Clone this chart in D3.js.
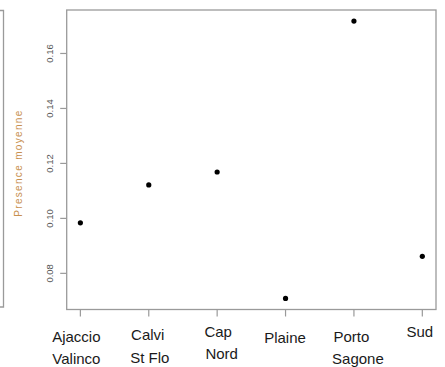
<!DOCTYPE html>
<html>
<head>
<meta charset="utf-8">
<script src="https://cdn.jsdelivr.net/npm/d3@7"></script>
<style>
  html, body { margin: 0; padding: 0; background: #fff; }
  svg { display: block; }
</style>
</head>
<body>
<svg id="chart" width="445" height="367"></svg>
<script>
// Mean presence per sector
const sectors = [["Ajaccio", "Valinco"], ["Calvi", "St Flo"], ["Cap", "Nord"], ["Plaine"], ["Porto", "Sagone"], ["Sud"]];
const presence = [0.0982, 0.1120, 0.1167, 0.0707, 0.1716, 0.0860];
const yTicks = [0.08, 0.10, 0.12, 0.14, 0.16];
const yTitle = "Presence moyenne";

const svg = d3.select("#chart");
const box = { left: 66.7, right: 436, top: 10, bottom: 309.5 };

// R-style 4% padding around the data range
const [lo, hi] = d3.extent(presence);
const padY = (hi - lo) * 0.04;
const y = d3.scaleLinear().domain([lo - padY, hi + padY]).range([box.bottom, box.top]);
const padX = (sectors.length - 1) * 0.04;
const x = d3.scaleLinear().domain([1 - padX, sectors.length + padX]).range([box.left, box.right]);

const frame = "#9a9a9a";

// edge of the neighbouring panel on the left
svg.append("path")
  .attr("d", "M0,10.5H3.5V307H0")
  .attr("fill", "none").attr("stroke", frame).attr("stroke-width", 1.3);

// plot frame
svg.append("rect")
  .attr("x", box.left).attr("y", box.top)
  .attr("width", box.right - box.left).attr("height", box.bottom - box.top)
  .attr("fill", "none").attr("stroke", frame).attr("stroke-width", 1.3);

// y axis with rotated labels
const yAxis = svg.append("g")
  .attr("transform", `translate(${box.left},0)`)
  .call(d3.axisLeft(y).tickValues(yTicks).tickSize(6.5).tickSizeOuter(0).tickFormat(d3.format(".2f")));
yAxis.select(".domain").remove();
yAxis.selectAll(".tick line").attr("stroke", frame).attr("stroke-width", 1.2);
yAxis.selectAll(".tick text")
  .attr("x", null).attr("dy", null).attr("y", null)
  .attr("transform", "translate(-14,0) rotate(-90)")
  .attr("text-anchor", "middle")
  .attr("fill", "#555")
  .style("font-family", "'Liberation Sans', Arial, sans-serif")
  .style("font-size", "9.5px");

svg.append("text")
  .attr("transform", `translate(22,${(box.top + box.bottom) / 2 + 4}) rotate(-90)`)
  .attr("text-anchor", "middle")
  .attr("fill", "#c8904f")
  .attr("textLength", 106)
  .style("font-family", "'Liberation Sans', Arial, sans-serif")
  .style("font-size", "10px")
  .text(yTitle);

// x ticks
const idx = d3.range(1, sectors.length + 1);
svg.append("g").selectAll("line").data(idx).join("line")
  .attr("x1", d => x(d)).attr("x2", d => x(d))
  .attr("y1", box.bottom).attr("y2", box.bottom + 7)
  .attr("stroke", frame).attr("stroke-width", 1.2);

// x labels, each line nudged as typeset
const labelNudge = [
  { dx: [-4, -4], y: 341.5 },
  { dx: [-1, 1], y: 340 },
  { dx: [1, 4.5], y: 336.5 },
  { dx: [-0.5], y: 343 },
  { dx: [-2.5, 4], y: 341.5 },
  { dx: [-2.5], y: 337 }
];
const lbl = svg.append("g")
  .style("font-family", "'Liberation Sans', Arial, sans-serif")
  .style("font-size", "15px")
  .attr("fill", "#1a1a1a")
  .attr("text-anchor", "middle");
sectors.forEach((lines, i) => {
  lines.forEach((t, j) => {
    lbl.append("text")
      .attr("x", x(i + 1) + labelNudge[i].dx[j])
      .attr("y", labelNudge[i].y + j * 22.5)
      .text(t);
  });
});

// points
svg.append("g").selectAll("circle").data(presence).join("circle")
  .attr("cx", (d, i) => x(i + 1))
  .attr("cy", d => y(d))
  .attr("r", 2.6)
  .attr("fill", "#000");
</script>
</body>
</html>
